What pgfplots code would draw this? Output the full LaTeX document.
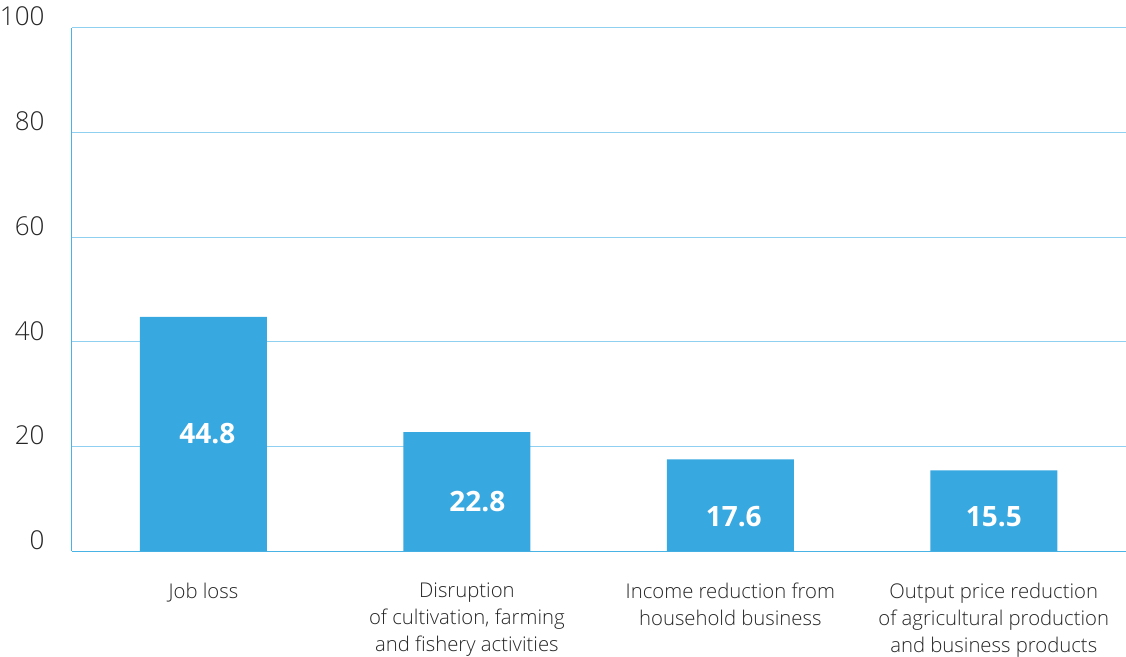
\documentclass[border=0pt]{standalone}
\usepackage{pgfplots}
\pgfplotsset{compat=1.18}
\usepackage{fontspec}
\setmainfont{Open Sans}[UprightFont=* Light, BoldFont=* Bold]
\definecolor{barblue}{HTML}{38A8E0}
\definecolor{gridblue}{HTML}{8FCFEF}
\definecolor{axisblue}{HTML}{4AB3E6}
\begin{document}
\begin{tikzpicture}
\begin{axis}[
    width=1054pt,
    height=524pt,
    scale only axis,
    xmin=-0.5, xmax=3.5,
    ymin=0, ymax=100,
    ytick={0,20,40,60,80,100},
    xtick={0,1,2,3},
    xticklabels={
        Job loss,
        {Disruption\\of cultivation, farming\\and fishery activities},
        {Income reduction from\\household business},
        {Output price reduction\\of agricultural production\\and business products}},
    axis x line*=bottom,
    axis y line*=left,
    axis line style={axisblue, line width=1pt, -},
    major tick length=0pt,
    ymajorgrids,
    grid style={gridblue, line width=1pt},
    /pgf/number format/assume math mode=true,
    yticklabel style={font=\fontsize{26}{30}\selectfont, inner sep=0pt, anchor=east, xshift=-27pt, yshift=11pt, text=black!85},
    xticklabel style={font=\fontsize{20.3}{27}\selectfont, align=center, anchor=north, inner sep=0pt, yshift=-31pt, text=black!85},
]
\addplot[ybar, bar width=127pt, fill=barblue, draw=none] coordinates {
    (0,44.8) (1,22.8) (2,17.6) (3,15.5)
};
\addplot[only marks, mark=none, point meta=explicit symbolic,
    nodes near coords,
    every node near coord/.append style={anchor=center, text=white, font=\fontsize{28}{32}\selectfont\bfseries}]
    coordinates {
    (0.015,22.5)[44.8] (1.04,9.5)[22.8] (2.013,6.7)[17.6] (3,6.7)[15.5]
};
\end{axis}
\path ([yshift=7pt]current bounding box.north west);
\end{tikzpicture}
\end{document}
